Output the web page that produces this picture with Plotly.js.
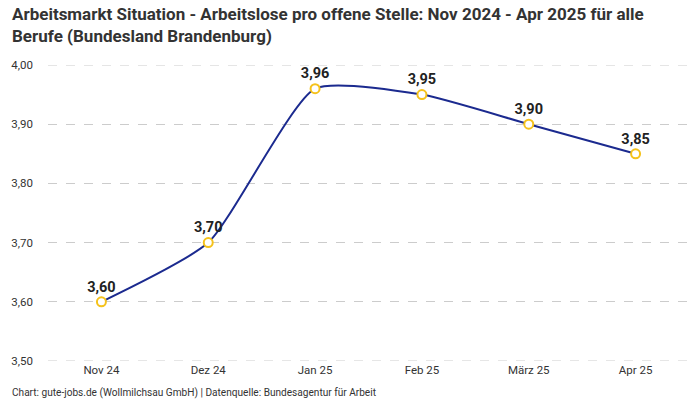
<!DOCTYPE html>
<html>
<head>
<meta charset="utf-8">
<script src="https://cdn.plot.ly/plotly-3.0.1.min.js"></script>
<style>html,body{margin:0;padding:0;background:#fff}#chart{width:700px;height:400px}</style>
</head>
<body>
<div id="chart"></div>
<script>
const categories = ["Nov 24", "Dez 24", "Jan 25", "Feb 25", "März 25", "Apr 25"];
const values = [3.60, 3.70, 3.96, 3.95, 3.90, 3.85];
const yTicks = [3.5, 3.6, 3.7, 3.8, 3.9, 4.0];
const titleText = "Arbeitsmarkt Situation - Arbeitslose pro offene Stelle: Nov 2024 - Apr 2025 für alle<br>Berufe (Bundesland Brandenburg)";
const sourceText = "Chart: gute-jobs.de (Wollmilchsau GmbH) | Datenquelle: Bundesagentur für Arbeit";

const font = "Roboto, 'Noto Sans', sans-serif";
const gridColor = "#cccccc";
const trace = {
  x: categories,
  y: values,
  type: "scatter",
  mode: "lines+markers+text",
  line: {color: "#1b2a8f", width: 2, shape: "spline", smoothing: 0.55},
  marker: {size: 9, color: "#ffffff", line: {color: "#f5c21b", width: 2}},
  text: values.map(v => v.toFixed(2).replace(".", ",")),
  textposition: "top center",
  textfont: {family: font, size: 14.5, color: "#222", weight: 700},
  cliponaxis: false,
  hoverinfo: "skip"
};
const edgeLines = [yTicks[0], yTicks[yTicks.length - 1]].map(v => ({
  type: "line", xref: "paper", yref: "y", x0: 0, x1: 1, y0: v, y1: v,
  layer: "below", line: {color: gridColor, width: 1, dash: "dash"}
}));
const layout = {
  width: 700, height: 400,
  margin: {l: 48, r: 11, t: 65, b: 39},
  separators: ",.",
  paper_bgcolor: "#fff", plot_bgcolor: "#fff",
  font: {family: font, color: "#333", size: 11},
  xaxis: {type: "category", range: [-0.5, 5.5], showgrid: false, zeroline: false,
          showline: false, ticks: "", tickfont: {size: 11.5, color: "#333"}},
  yaxis: {range: [3.5, 4.0], tickvals: yTicks, tickformat: ".2f", showgrid: true,
          gridcolor: gridColor, griddash: "dash", gridwidth: 1, zeroline: false,
          showline: false, ticks: "", ticklabelstandoff: 14, tickfont: {size: 11.5, color: "#333"}},
  shapes: edgeLines,
  showlegend: false,
  annotations: [
    {text: titleText, xref: "paper", yref: "paper", x: -0.0593, xanchor: "left",
     y: 1.212, yanchor: "top", align: "left", showarrow: false,
     font: {family: font, size: 17, color: "#333", weight: 700}},
    {text: sourceText, xref: "paper", yref: "paper", x: -0.0593, xanchor: "left",
     y: -0.108, yanchor: "middle", showarrow: false, font: {size: 10.1, color: "#333"}}
  ]
};
Plotly.newPlot("chart", [trace], layout, {displayModeBar: false, staticPlot: true});
</script>
</body>
</html>
